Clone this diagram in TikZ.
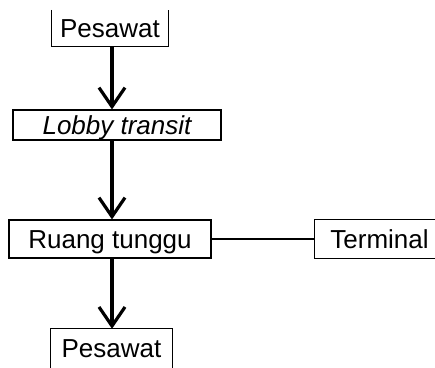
\documentclass[tikz,border=0pt]{standalone}
\usepackage{fontspec}
\setmainfont{Liberation Sans}
\usetikzlibrary{arrows.meta}
\begin{document}
\begin{tikzpicture}[x=1pt,y=-1pt,
  every node/.style={font=\fontsize{26}{30}\selectfont, inner sep=0pt,
    text height=18.6pt, text depth=0pt},
  stepbox/.style={draw, line width=1.1pt},
  openbox/.style={},
  sideline/.style={line width=1.1pt},
  flow/.style={line width=3.2pt, -{Straight Barb[length=19pt,width=26pt]}},
  link/.style={line width=2pt}]
\useasboundingbox (0,0) rectangle (435,367);

% boxes
\node[openbox, minimum width=116pt, minimum height=36pt] (pesA) at (110,28) {Pesawat};
\node[stepbox, minimum width=208pt, minimum height=30pt] (lobby) at (117,125) {\itshape Lobby transit};
\node[stepbox, minimum width=202pt, minimum height=38pt] (ruang) at (110,239) {Ruang tunggu};
\node[openbox, minimum width=129pt, minimum height=38pt] (term) at (379.5,239) {Terminal};
\node[openbox, minimum width=121pt, minimum height=39pt] (pesB) at (111.5,348.5) {Pesawat};

% box outlines that run off the edge of the page
\draw[sideline] (pesA.north west) -- (pesA.south west) -- (pesA.south east) -- (pesA.north east);
\draw[sideline] (term.north east) -- (term.north west) -- (term.south west) -- (term.south east);
\draw[sideline] (pesB.south west) -- (pesB.north west) -- (pesB.north east) -- (pesB.south east);

% connectors
\coordinate (c1) at (112,0);
\draw[flow] (pesA.south -| c1) -- (lobby.north -| c1);
\draw[flow] (lobby.south -| c1) -- (ruang.north -| c1);
\draw[flow] (ruang.south -| c1) -- (pesB.north -| c1);
\draw[link] (ruang.east) -- (term.west);
\end{tikzpicture}
\end{document}
